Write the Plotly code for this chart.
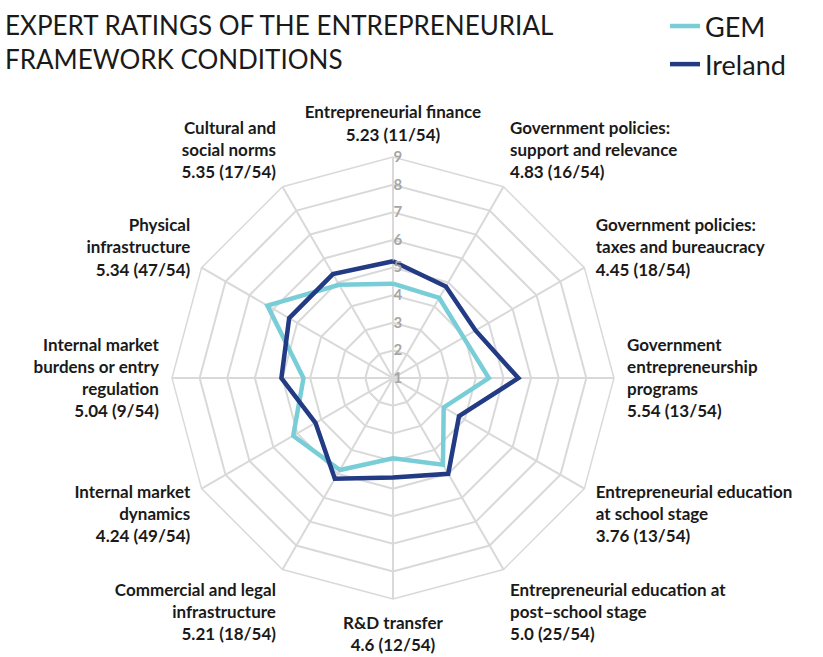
import plotly.graph_objects as go

# Framework conditions, clockwise from the top
conditions = [
    "Entrepreneurial finance",
    "Government policies:<br>support and relevance",
    "Government policies:<br>taxes and bureaucracy",
    "Government<br>entrepreneurship<br>programs",
    "Entrepreneurial education<br>at school stage",
    "Entrepreneurial education at<br>post–school stage",
    "R&D transfer",
    "Commercial and legal<br>infrastructure",
    "Internal market<br>dynamics",
    "Internal market<br>burdens or entry<br>regulation",
    "Physical<br>infrastructure",
    "Cultural and<br>social norms",
]
ireland = [5.23, 4.83, 4.45, 5.54, 3.76, 5.0, 4.6, 5.21, 4.24, 5.04, 5.34, 5.35]
ireland_rank = [11, 16, 18, 13, 13, 25, 12, 18, 49, 9, 47, 17]
gem = [4.42, 4.35, 3.95, 4.47, 3.12, 4.62, 3.9, 4.84, 5.17, 4.24, 6.25, 4.9]
n_economies = 54
radial_ticks = [1, 2, 3, 4, 5, 6, 7, 8, 9]

keys = [f"c{i}" for i in range(len(conditions))]
tick_text = [
    f"<b>{name}<br>{val} ({rank}/{n_economies})</b>"
    for name, val, rank in zip(conditions, ireland, ireland_rank)
]
radial_text = [f"<b>{t}</b>" for t in radial_ticks]

GEM_COLOR = "#79CDD6"
IRL_COLOR = "#233A84"
GRID = "#D9D9D9"

fig = go.Figure()
fig.add_trace(go.Scatterpolar(
    r=gem + gem[:1], theta=keys + keys[:1], mode="lines", name="GEM",
    line=dict(color=GEM_COLOR, width=4.5),
))
fig.add_trace(go.Scatterpolar(
    r=ireland + ireland[:1], theta=keys + keys[:1], mode="lines", name="Ireland",
    line=dict(color=IRL_COLOR, width=4.5),
))

fig.add_annotation(
    text="EXPERT RATINGS OF THE ENTREPRENEURIAL<br>FRAMEWORK CONDITIONS",
    xref="paper", yref="paper", x=0.004, y=0.99,
    xanchor="left", yanchor="top", align="left", showarrow=False,
    font=dict(family="Lato", size=26, color="#1A1A1A"),
)

fig.update_layout(
    width=823, height=657,
    margin=dict(l=0, r=0, t=0, b=0),
    paper_bgcolor="white",
    font=dict(family="Lato, 'Open Sans', sans-serif", color="#1A1A1A"),
    legend=dict(
        x=0.808, xanchor="left", y=0.997, yanchor="top",
        font=dict(family="Lato", size=27, color="#1A1A1A"),
        bgcolor="rgba(0,0,0,0)", itemwidth=30, tracegroupgap=0,
    ),
    polar=dict(
        domain=dict(x=[0.209, 0.746], y=[0.088, 0.761]),
        bgcolor="white",
        gridshape="linear",
        radialaxis=dict(
            range=[1, 9], tickmode="array", tickvals=radial_ticks,
            ticktext=radial_text, angle=90, tickangle=90,
            side="clockwise",
            showline=False, gridcolor=GRID, gridwidth=1.5,
            tickfont=dict(family="Lato", size=15, color="#A6A6A6"),
            ticks="",
        ),
        angularaxis=dict(
            direction="clockwise", rotation=90, type="category",
            tickmode="array", tickvals=keys, ticktext=tick_text,
            tickfont=dict(family="Lato", size=17, color="#1A1A1A"),
            showline=True, linecolor=GRID, linewidth=1.5,
            gridcolor=GRID, gridwidth=1.5,
            ticks="outside", ticklen=9, tickcolor="rgba(0,0,0,0)",
        ),
    ),
)

fig.write_html("out.html")
